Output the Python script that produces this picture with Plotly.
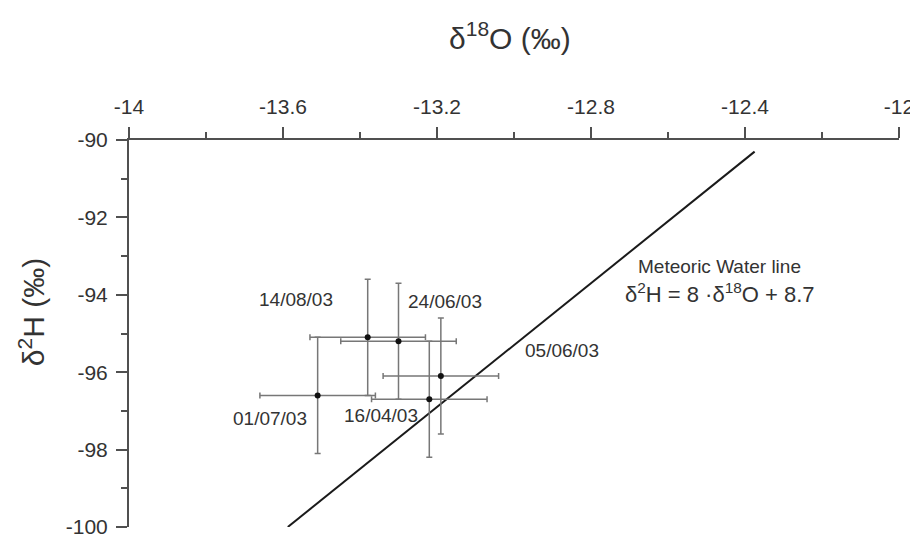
import plotly.graph_objects as go

# Data
dates = ["01/07/03", "14/08/03", "24/06/03", "05/06/03", "16/04/03"]
d18O = [-13.51, -13.38, -13.30, -13.19, -13.22]
d2H = [-96.6, -95.1, -95.2, -96.1, -96.7]
err_d18O = [0.15, 0.15, 0.15, 0.15, 0.15]
err_d2H = [1.5, 1.5, 1.5, 1.5, 1.5]

# label positions (data coordinates)
label_x = [-13.634, -13.565, -13.18, -12.875, -13.346]
label_y = [-97.2, -94.12, -94.17, -95.43, -97.12]

# Meteoric water line: d2H = 8*d18O + 8.7
mwl_slope = 8
mwl_intercept = 8.7
mwl_x = [-13.5875, -12.375]
mwl_y = [mwl_slope * v + mwl_intercept for v in mwl_x]

x_ticks = [-14, -13.6, -13.2, -12.8, -12.4, -12]
x_ticktext = ["-14", "-13.6", "-13.2", "-12.8", "-12.4", "-12"]
y_ticks = [-90, -92, -94, -96, -98, -100]
y_ticktext = ["-90", "-92", "-94", "-96", "-98", "-100"]

FONT = "Liberation Sans, Arial, sans-serif"
TXT = "#333333"
AX = "#505050"

fig = go.Figure()

fig.add_trace(go.Scatter(
    x=mwl_x, y=mwl_y, mode="lines",
    line=dict(color="#1a1a1a", width=2), showlegend=False, hoverinfo="skip"))

fig.add_trace(go.Scatter(
    x=d18O, y=d2H, mode="markers",
    marker=dict(color="#111111", size=6),
    error_x=dict(type="data", array=err_d18O, color="#777777", thickness=1.5, width=3),
    error_y=dict(type="data", array=err_d2H, color="#777777", thickness=1.5, width=3),
    showlegend=False))

for t, lx, ly in zip(dates, label_x, label_y):
    fig.add_annotation(x=lx, y=ly, text=t, showarrow=False,
                       font=dict(family=FONT, size=19, color=TXT))

fig.add_annotation(x=-12.466, y=-93.26, text="Meteoric Water line", showarrow=False,
                   font=dict(family=FONT, size=19, color=TXT))
fig.add_annotation(x=-12.466, y=-93.96,
                   text="δ<sup>2</sup>H = 8 ·δ<sup>18</sup>O + 8.7", showarrow=False,
                   font=dict(family=FONT, size=22, color=TXT))

# axis titles
fig.add_annotation(xref="paper", yref="paper", x=0.495, y=1, yshift=104, yanchor="middle",
                   text="δ<sup>18</sup>O (‰)", showarrow=False,
                   font=dict(family=FONT, size=30, color=TXT))
fig.add_annotation(xref="paper", yref="paper", x=0, y=0.555, xshift=-97, xanchor="center",
                   yanchor="middle",
                   text="δ<sup>2</sup>H (‰)", showarrow=False, textangle=-90,
                   font=dict(family=FONT, size=30, color=TXT))

fig.update_xaxes(
    range=[-14, -12], side="top", showgrid=False, zeroline=False, automargin=False,
    showline=True, linecolor=AX, linewidth=2,
    tickmode="array", tickvals=x_ticks, ticktext=x_ticktext,
    ticks="outside", ticklen=11, tickwidth=1.5, tickcolor=AX,
    minor=dict(ticks="outside", dtick=0.2, tick0=-14, ticklen=6, tickwidth=1.5, tickcolor=AX, showgrid=False),
    tickfont=dict(family=FONT, size=21, color=TXT), ticklabelstandoff=5,
    ticklabeloverflow="allow",
)
fig.update_yaxes(
    range=[-100, -90], showgrid=False, zeroline=False, automargin=False,
    showline=True, linecolor=AX, linewidth=2,
    tickmode="array", tickvals=y_ticks, ticktext=y_ticktext,
    ticks="outside", ticklen=11, tickwidth=1.5, tickcolor=AX,
    minor=dict(ticks="outside", dtick=1, tick0=-100, ticklen=6, tickwidth=1.5, tickcolor=AX, showgrid=False),
    tickfont=dict(family=FONT, size=21, color=TXT), ticklabelstandoff=4,
    ticklabeloverflow="allow",
)

# page body has an 8px margin, so the figure is sized/offset to compensate
fig.update_layout(
    width=910, height=531,
    margin=dict(l=121, r=19, t=132, b=12),
    plot_bgcolor="white", paper_bgcolor="white",
    font=dict(family=FONT, color=TXT),
)

fig.write_html("out.html")
